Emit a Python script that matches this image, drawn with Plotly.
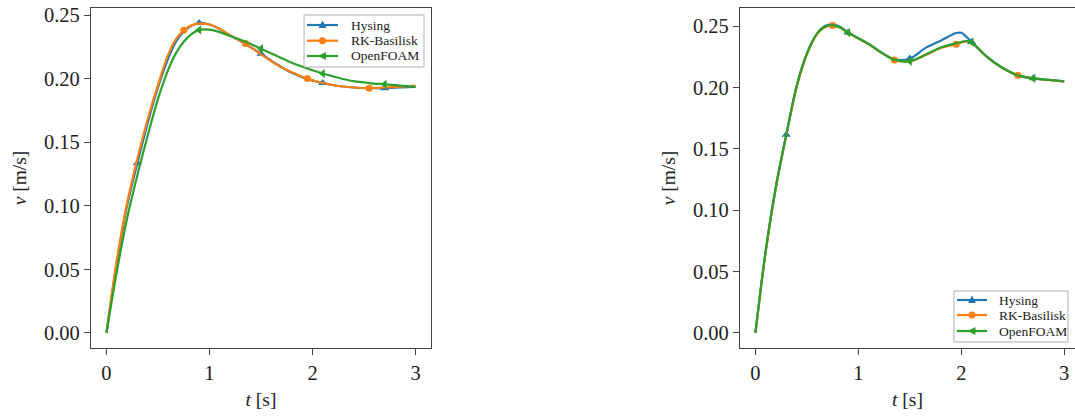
import plotly.graph_objects as go

# ---------------- data ----------------
names = ["Hysing", "RK-Basilisk", "OpenFOAM"]
x_ticks = [0, 1, 2, 3]
y_ticks = [0.00, 0.05, 0.10, 0.15, 0.20, 0.25]

# left panel
t_left = [0.0, 0.1, 0.2, 0.3, 0.4, 0.5, 0.6, 0.675, 0.75, 0.825, 0.9, 1.0, 1.1, 1.2,
          1.35, 1.5, 1.65, 1.8, 1.95, 2.1, 2.25, 2.4, 2.55, 2.7, 2.85, 3.0]
hysing_L = [0, 0.055, 0.100, 0.1335, 0.165, 0.193, 0.216, 0.229, 0.237, 0.2415, 0.2437,
            0.2425, 0.239, 0.234, 0.227, 0.2195, 0.2115, 0.2045, 0.1995, 0.1965, 0.1942,
            0.193, 0.1925, 0.1925, 0.193, 0.1935]
basilisk_L = [0, 0.057, 0.102, 0.137, 0.168, 0.195, 0.219, 0.231, 0.238, 0.242, 0.2432,
              0.2425, 0.239, 0.234, 0.2275, 0.219, 0.211, 0.205, 0.200, 0.1965, 0.1942,
              0.193, 0.1925, 0.193, 0.1937, 0.1945]
openfoam_L = [0, 0.048, 0.090, 0.124, 0.155, 0.184, 0.207, 0.220, 0.229, 0.235, 0.2383,
              0.2385, 0.2365, 0.2335, 0.229, 0.2235, 0.218, 0.2125, 0.208, 0.204, 0.2007,
              0.198, 0.1965, 0.1955, 0.1945, 0.1935]

# right panel
t_right = [0.0, 0.1, 0.2, 0.3, 0.4, 0.5, 0.6, 0.675, 0.75, 0.825, 0.9, 1.0, 1.1, 1.2,
           1.35, 1.5, 1.65, 1.8, 1.95, 2.0, 2.05, 2.1, 2.25, 2.4, 2.55, 2.7, 2.85, 3.0]
hysing_R = [0, 0.067, 0.119, 0.1615, 0.201, 0.2275, 0.2440, 0.2500, 0.2514, 0.2492, 0.2448,
            0.2400, 0.2355, 0.2298, 0.2228, 0.2235, 0.2320, 0.2380, 0.2443, 0.2445, 0.2412,
            0.2370, 0.2250, 0.2158, 0.2098, 0.2074, 0.2061, 0.2049]
basilisk_R = [0, 0.066, 0.119, 0.1610, 0.200, 0.2270, 0.2435, 0.2490, 0.2505, 0.2485, 0.2445,
              0.2398, 0.2352, 0.2294, 0.2224, 0.2212, 0.2262, 0.2322, 0.2352, 0.2365, 0.2374,
              0.2365, 0.2246, 0.2157, 0.2098, 0.2074, 0.2060, 0.2047]
openfoam_R = [0, 0.067, 0.120, 0.1615, 0.201, 0.2275, 0.2440, 0.2495, 0.2508, 0.2488, 0.2447,
              0.2400, 0.2354, 0.2296, 0.2226, 0.2213, 0.2265, 0.2325, 0.2360, 0.2370, 0.2378,
              0.2368, 0.2249, 0.2160, 0.2098, 0.2073, 0.2061, 0.2050]

# times at which markers are drawn
hysing_marks = [0.3, 0.9, 1.5, 2.1, 2.7]
basilisk_marks = [0.75, 1.35, 1.95, 2.55]
openfoam_marks = [0.9, 1.5, 2.1, 2.7]

# ---------------- style ----------------
colors = ["#1f77b4", "#ff7f0e", "#2ca02c"]
symbols = ["triangle-up", "circle", "triangle-left"]
msizes = [8, 7, 8]
FONT = "Liberation Serif"
AX = "#444444"
TXT = "#222222"
LW = 2.2

W, H = 1075, 416
L1, R1 = 91, 431
L2 = 740
TOP, BOT = 8, 348

fig = go.Figure()


def pick(ts, vs, marks):
    xs, ys = [], []
    for m in marks:
        i = min(range(len(ts)), key=lambda k: abs(ts[k] - m))
        xs.append(ts[i]); ys.append(vs[i])
    return xs, ys


panels = [
    ("x", "y", t_left, [hysing_L, basilisk_L, openfoam_L]),
    ("x2", "y2", t_right, [hysing_R, basilisk_R, openfoam_R]),
]
marks = [hysing_marks, basilisk_marks, openfoam_marks]

for xa, ya, ts, series in panels:
    for k, vals in enumerate(series):
        fig.add_trace(go.Scatter(x=ts, y=vals, mode="lines", xaxis=xa, yaxis=ya,
                                 line=dict(color=colors[k], width=LW, shape="spline", smoothing=0.9),
                                 showlegend=False, hoverinfo="skip"))
        mx, my = pick(ts, vals, marks[k])
        fig.add_trace(go.Scatter(x=mx, y=my, mode="markers", xaxis=xa, yaxis=ya,
                                 marker=dict(color=colors[k], symbol=symbols[k], size=msizes[k]),
                                 showlegend=False, hoverinfo="skip"))


# ---------------- hand-made legends (matplotlib-like compact boxes) ----------------
def px(x):
    return x / W


def py(y):
    return 1 - (y - TOP) / (BOT - TOP)


glyph_paths = {
    "triangle-up": "M-4,-3 L4,-3 L0,4.5 Z",
    "triangle-left": "M3.5,-4 L3.5,4 L-4.5,0 Z",
}

shapes, annotations = [], []


def add_legend(box, rows, line_x, text_x):
    x0, y0, x1, y1 = box
    shapes.append(dict(type="rect", xref="paper", yref="paper",
                       x0=px(x0), x1=px(x1), y0=py(y0), y1=py(y1),
                       fillcolor="rgba(255,255,255,0.9)", line=dict(color="#b0b0b0", width=1)))
    for k, yy in enumerate(rows):
        shapes.append(dict(type="line", xref="paper", yref="paper",
                           x0=px(line_x[0]), x1=px(line_x[1]), y0=py(yy), y1=py(yy),
                           line=dict(color=colors[k], width=LW)))
        cx = (line_x[0] + line_x[1]) / 2
        if symbols[k] == "circle":
            shapes.append(dict(type="circle", xref="paper", yref="paper",
                               xsizemode="pixel", ysizemode="pixel",
                               xanchor=px(cx), yanchor=py(yy),
                               x0=-3.5, x1=3.5, y0=-3.5, y1=3.5,
                               fillcolor=colors[k], line=dict(width=0)))
        else:
            shapes.append(dict(type="path", xref="paper", yref="paper",
                               xsizemode="pixel", ysizemode="pixel",
                               xanchor=px(cx), yanchor=py(yy),
                               path=glyph_paths[symbols[k]],
                               fillcolor=colors[k], line=dict(width=0)))
        annotations.append(dict(xref="paper", yref="paper", x=px(text_x), y=py(yy),
                                xanchor="left", yanchor="middle", showarrow=False,
                                text=names[k], font=dict(family=FONT, size=13.5, color=TXT)))


add_legend((304, 15, 424, 67), [25, 40.7, 56], (307, 338), 349)
add_legend((954, 291, 1068, 342), [300, 315, 331], (957, 987), 997)

tickfont = dict(family=FONT, size=20.5, color=TXT)
titlefont = dict(family=FONT, size=19.5, color=TXT)
axis_common = dict(
    showgrid=False, zeroline=False, ticks="outside", ticklen=6, tickwidth=1,
    tickcolor=AX, linecolor=AX, linewidth=1.2, showline=True,
    tickfont=tickfont,
)

fig.update_layout(
    width=W, height=H,
    margin=dict(l=0, r=0, t=TOP, b=H - BOT),
    paper_bgcolor="white", plot_bgcolor="white",
    font=dict(family=FONT, size=19, color=TXT),
    showlegend=False,
    shapes=shapes, annotations=annotations,
    xaxis=dict(domain=[L1 / W, R1 / W], range=[-0.15, 3.15], tickvals=x_ticks,
               mirror=True, anchor="y",
               title=dict(text="<i>t</i> [s]", font=titlefont, standoff=9),
               **axis_common),
    yaxis=dict(domain=[0, 1], range=[-0.0118, 0.2555], tickvals=y_ticks, tickformat=".2f",
               mirror=True, anchor="x",
               title=dict(text="<i>v</i> [m/s]", font=titlefont, standoff=12),
               **axis_common),
    xaxis2=dict(domain=[L2 / W, 1.0], range=[-0.15, 3.105], tickvals=x_ticks,
                mirror=True, anchor="y2",
                title=dict(text="<i>t</i> [s]", font=titlefont, standoff=9),
                **axis_common),
    yaxis2=dict(domain=[0, 1], range=[-0.0124, 0.2647], tickvals=y_ticks, tickformat=".2f",
                mirror=False, anchor="x2",
                title=dict(text="<i>v</i> [m/s]", font=titlefont, standoff=12),
                **axis_common),
)

fig.write_html("out.html")
